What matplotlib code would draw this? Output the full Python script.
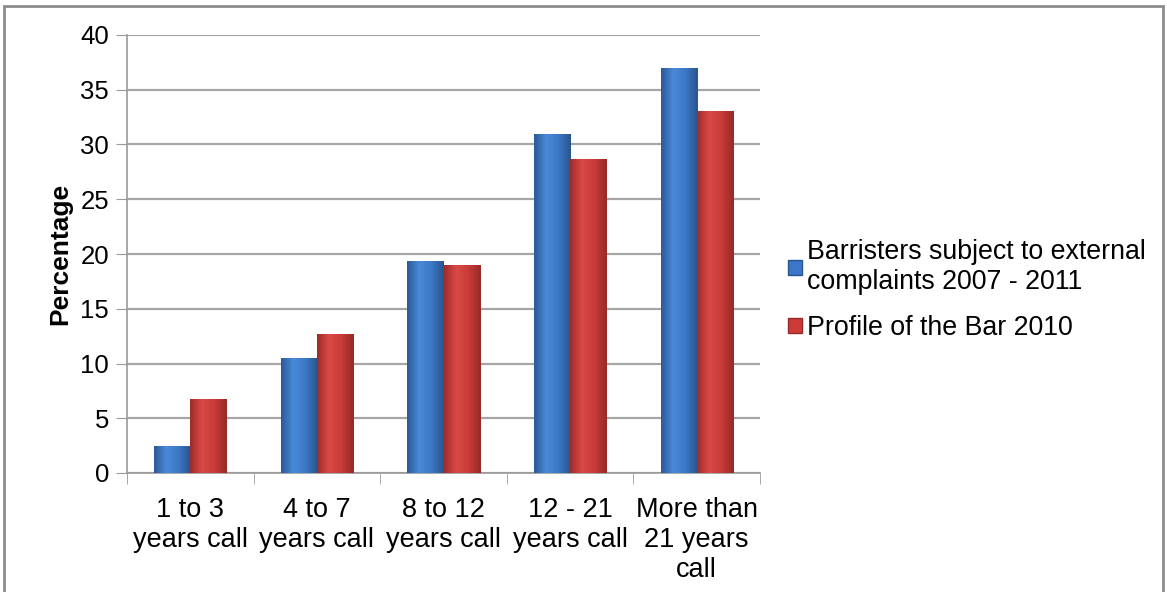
import matplotlib
matplotlib.use("Agg")
import matplotlib.pyplot as plt
import numpy as np
from matplotlib.patches import Rectangle, Patch
from matplotlib.colors import LinearSegmentedColormap

plt.rcParams['font.family'] = ['Liberation Sans', 'DejaVu Sans']

categories = ["1 to 3\nyears call", "4 to 7\nyears call", "8 to 12\nyears call",
              "12 - 21\nyears call", "More than\n21 years\ncall"]
series_names = ["Barristers subject to external\ncomplaints 2007 - 2011",
                "Profile of the Bar 2010"]
complaints = [2.45, 10.5, 19.4, 31.0, 37.0]
profile = [6.8, 12.7, 19.0, 28.7, 33.1]
yticks = [0, 5, 10, 15, 20, 25, 30, 35, 40]

W, H = 1167, 592
fig = plt.figure(figsize=(W / 100, H / 100), dpi=100)
fig.patch.set_facecolor('white')
ax = fig.add_axes([127 / W, 1 - 473 / H, (760 - 127) / W, (473 - 35) / H])

x = np.arange(len(categories))
bw = 0.285
blue = "#3A77C8"
red = "#CC3B38"
cm_blue = LinearSegmentedColormap.from_list("b", ["#2B5A97", "#4A8AD8", "#3B78C6", "#2A558E"])
cm_red = LinearSegmentedColormap.from_list("r", ["#9E2C2A", "#DA4A46", "#C83B38", "#962A28"])

def draw(vals, offset, color, cmap):
    bars = ax.bar(x + offset, vals, bw, color=color, zorder=3, linewidth=0)
    grad = np.linspace(0, 1, 64).reshape(1, -1)
    for b in bars:
        x0, y0 = b.get_x(), b.get_y()
        w, h = b.get_width(), b.get_height()
        im = ax.imshow(grad, cmap=cmap, aspect='auto', extent=(x0, x0 + w, y0, y0 + h),
                       zorder=3.5, interpolation='bicubic')
        im.set_clip_path(b)
    return bars

draw(complaints, -bw / 2, blue, cm_blue)
draw(profile, bw / 2, red, cm_red)

ax.set_xlim(-0.5, len(categories) - 0.5)
ax.set_ylim(0, 40)
ax.set_yticks(yticks)
ax.set_yticklabels([str(v) for v in yticks], fontsize=18.5)
ax.set_xticks(x)
ax.set_xticklabels(categories, fontsize=19.5, linespacing=1.2)
ax.set_xticks(np.arange(len(categories) + 1) - 0.5, minor=True)
ax.tick_params(axis='x', which='major', length=0, pad=17)
ax.tick_params(axis='x', which='minor', length=8, color='#999999', direction='out')
ax.tick_params(axis='y', length=8, color='#999999', direction='out', pad=5)
ax.grid(axis='y', color='#A6A6A6', linewidth=1.6, zorder=0)
ax.set_axisbelow(True)
for s in ['top', 'right']:
    ax.spines[s].set_visible(False)
for s in ['left', 'bottom']:
    ax.spines[s].set_color('#999999')
    ax.spines[s].set_linewidth(1.2)
ax.set_ylabel("Percentage", fontsize=19, fontweight='bold', labelpad=6)

handles = [Patch(facecolor=blue, edgecolor='#2A558E'), Patch(facecolor=red, edgecolor='#962A28')]
fig.legend(handles, series_names, loc='center left', bbox_to_anchor=(775 / W, 1 - 290 / H),
           frameon=False, fontsize=19.3, handlelength=0.5, handleheight=0.5,
           handletextpad=0.2, labelspacing=0.75, borderpad=0)

fig.add_artist(Rectangle((4 / W, -0.05), (1163 - 4) / W, 1.05 - 6 / H, transform=fig.transFigure,
                         fill=False, edgecolor='#8C8C8C', linewidth=2))

fig.savefig("out.png", dpi=100, facecolor='white')
